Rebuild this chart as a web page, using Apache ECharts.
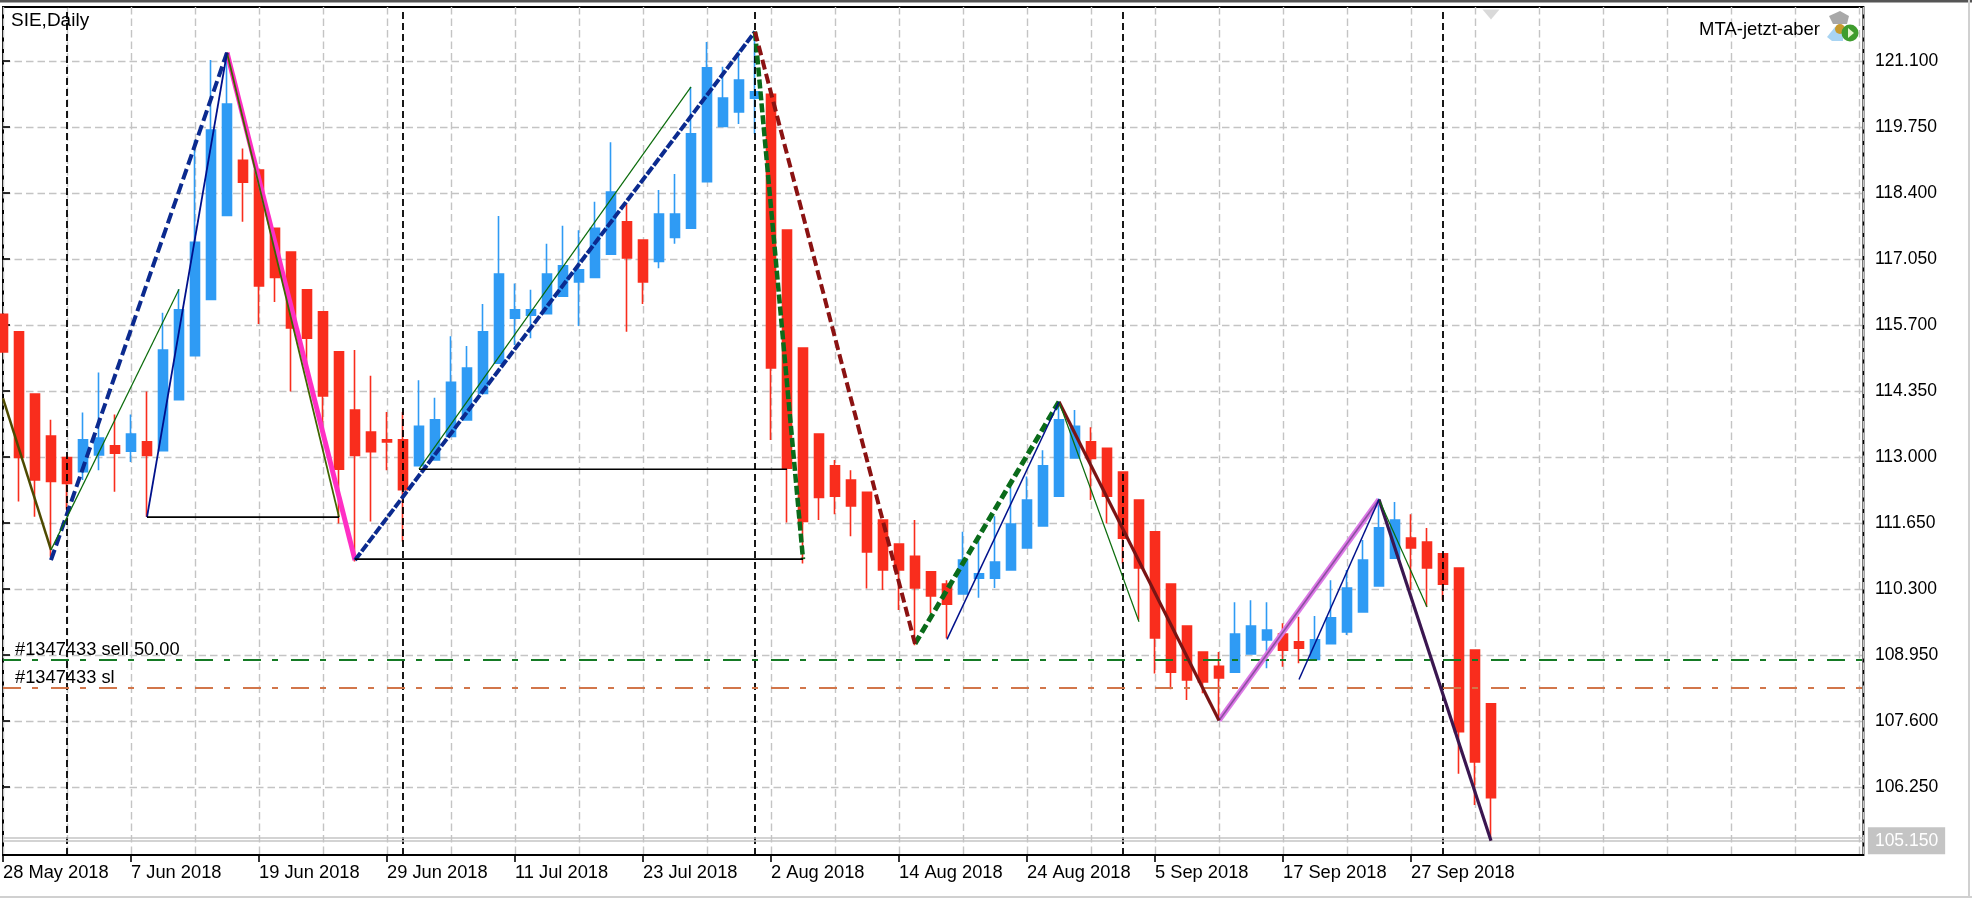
<!DOCTYPE html>
<html><head><meta charset="utf-8">
<style>html,body{margin:0;padding:0;background:#fff}#c{width:1972px;height:900px}</style>
<script src="https://cdn.jsdelivr.net/npm/echarts@6/dist/echarts.min.js"></script>
</head><body><div id="c"></div>
<script>
const opens=[115.92,115.56,114.29,113.43,112.99,112.70,113.04,113.23,113.12,113.31,113.13,114.17,115.07,116.22,117.94,119.07,118.87,117.68,117.19,116.42,115.97,115.15,113.96,113.51,113.35,113.35,112.82,112.94,113.42,113.76,114.30,114.92,115.84,115.90,115.93,116.29,116.58,116.67,117.15,117.81,117.44,117.00,117.49,117.68,118.63,119.76,120.06,120.34,120.42,117.64,115.23,113.47,112.82,112.53,112.28,111.71,111.22,110.97,110.65,110.40,110.20,110.52,110.52,110.69,111.14,111.59,112.20,112.98,113.31,113.18,112.69,112.12,111.47,110.40,109.54,109.01,108.72,108.60,108.97,109.26,109.38,109.22,108.86,109.18,109.42,109.83,110.36,110.93,111.34,111.26,111.02,110.73,109.05,107.95];
const closes=[115.15,112.99,112.53,112.50,112.46,113.35,113.39,113.08,113.47,113.03,115.19,116.01,117.39,119.69,120.22,118.62,116.50,116.67,115.64,115.43,114.25,112.75,113.03,113.11,113.31,112.33,113.63,113.76,114.53,114.82,115.56,116.74,116.01,116.01,116.74,116.91,116.83,117.68,118.42,117.07,116.58,117.97,117.97,119.61,120.96,120.34,120.71,120.47,114.82,112.77,111.68,112.17,112.20,112.00,111.06,110.69,110.69,110.32,110.16,109.99,110.89,110.61,110.85,111.63,112.12,112.82,113.76,113.63,112.97,112.20,111.34,110.73,109.30,108.60,108.44,108.40,108.48,109.38,109.54,109.46,109.05,109.09,109.26,109.71,110.32,110.89,111.55,111.71,111.14,110.73,110.40,107.38,106.76,106.03];
const lows=[115.15,112.09,111.78,110.96,111.92,112.53,112.73,112.29,112.90,111.78,113.13,114.17,115.07,116.22,117.94,117.81,115.72,116.17,114.34,114.85,113.48,111.64,110.86,111.68,112.73,111.27,112.82,112.94,113.42,113.76,114.30,114.92,115.29,115.43,115.93,116.29,115.68,116.67,117.15,115.56,116.13,116.86,117.36,117.68,118.63,119.76,119.81,119.61,113.35,111.66,110.82,111.71,111.83,111.38,110.31,110.28,109.87,109.15,109.80,109.29,110.20,110.12,110.32,110.69,111.14,111.59,112.20,112.98,112.12,111.64,110.82,109.67,108.57,108.25,108.03,108.17,107.62,108.60,108.97,108.68,108.71,108.78,108.86,109.18,109.36,109.83,110.36,110.93,110.28,109.94,110.07,106.52,105.88,105.15];
const highs=[115.92,115.56,114.29,113.76,112.99,113.91,114.73,113.87,113.87,114.34,115.95,116.43,119.48,121.12,121.26,119.31,118.87,117.68,117.19,116.42,115.97,115.15,115.19,114.66,113.92,113.92,114.57,114.21,115.47,115.27,116.13,117.93,116.55,116.42,117.36,117.73,117.64,118.22,119.44,118.19,117.44,118.46,118.79,120.57,121.49,120.98,121.32,121.70,120.51,117.64,115.23,113.47,112.94,112.73,112.28,111.71,111.22,111.71,110.65,110.48,111.47,111.34,111.79,112.39,112.60,113.14,114.06,113.96,113.61,113.18,112.69,112.12,111.47,110.40,109.54,109.01,109.01,110.03,110.07,110.03,109.60,109.73,109.75,110.48,110.69,111.30,112.15,112.08,111.83,111.55,111.02,110.73,109.05,107.95];
const dateTickIndex=[0,8,16,24,32,40,48,56,64,72,80,88];
const dateTickLabels=["28 May 2018","7 Jun 2018","19 Jun 2018","29 Jun 2018","11 Jul 2018","23 Jul 2018","2 Aug 2018","14 Aug 2018","24 Aug 2018","5 Sep 2018","17 Sep 2018","27 Sep 2018"];
const priceTicks=[106.25,107.6,108.95,110.3,111.65,113,114.35,115.7,117.05,118.4,119.75,121.1];
const separators=[4,25,47,70,90];
const sellPrice=108.85, stopPrice=108.28, bidPrice=105.15, askPrice=105.22;
const olive=[[0,114.20],[3,111.10]];
const navyDashA=[[3,110.89],[14,121.27]];
const pinkDown=[[14,121.27],[22,110.89]];
const thinGreenA=[[3,111.10],[11,116.43]];
const thinNavyA=[[9,111.77],[14,121.27]];
const thinGreenB=[[14,121.27],[21,111.77]];
const blackA=[[9,111.77],[21,111.77]];
const navyDashB=[[22,110.89],[47,121.70]];
const blackB=[[22,110.91],[50,110.91]];
const thinGreenC=[[26,112.75],[43,120.57]];
const blackC=[[26,112.75],[49,112.75]];
const greenDashA=[[47,121.70],[50,110.91]];
const redDash=[[47,121.70],[57,109.18]];
const greenDashB=[[57,109.18],[66,114.13]];
const thinNavyB=[[59,109.27],[66,114.13]];
const redSolid=[[66,114.13],[76,107.61]];
const thinGreenD=[[66,114.13],[71,109.63]];
const purpleUp=[[76,107.61],[86,112.13]];
const thinNavyC=[[81,108.45],[86,112.13]];
const thinGreenE=[[86,112.13],[89,109.93]];
const darkPurple=[[86,112.13],[93,105.15]];
const shiftMark=[[93,122.05]];

const FONT='"Liberation Sans"';
const candles=opens.map((o,i)=>[i,o,closes[i],lows[i],highs[i]]);
function ln(data,color,width,dash){
  return {type:'line',data,symbol:'none',silent:true,animation:false,z:5,
    lineStyle:{color,width,type:dash?dash:'solid',cap:'butt'}};
}
const hLabel=(text)=>({show:true,position:'insideStartTop',formatter:text,color:'#000',
  fontFamily:FONT,fontSize:18.3,distance:1,padding:[0,0,0,11]});
const gridDash={color:'#c4c4c4',width:1.4,type:[7.5,4]};
const chart=echarts.init(document.getElementById('c'),null,{renderer:'canvas'});
chart.setOption({
  animation:false,backgroundColor:'#fff',
  title:{text:'SIE,Daily',left:11,top:11,padding:0,textStyle:{fontFamily:FONT,fontSize:19,fontWeight:'normal',color:'#000'}},
  grid:{left:3,top:7,width:1860.4,height:848,show:true,borderColor:'#000',borderWidth:2,backgroundColor:'#fff'},
  xAxis:[
    {type:'value',min:0,max:116.275,position:'bottom',
     axisLine:{show:false},splitLine:{show:false},
     axisTick:{show:true,length:7,customValues:dateTickIndex,lineStyle:{color:'#000',width:1.6}},
     axisLabel:{show:true,customValues:dateTickIndex,align:'left',margin:9,fontFamily:FONT,fontSize:18.3,color:'#000',
       formatter:v=>dateTickLabels[dateTickIndex.indexOf(v)]||''}},
    {type:'value',min:0,max:116.275,interval:4,position:'bottom',
     axisLine:{show:false},axisTick:{show:false},axisLabel:{show:false},
     splitLine:{show:true,lineStyle:gridDash}}
  ],
  yAxis:{type:'value',position:'right',min:104.859,max:122.2045,
    axisLine:{show:false},
    axisTick:{show:true,length:7,customValues:priceTicks,lineStyle:{color:'#000',width:1.6}},
    axisLabel:{show:true,customValues:priceTicks,margin:11.5,fontFamily:FONT,fontSize:17.5,color:'#000',formatter:v=>v.toFixed(3)},
    splitLine:{show:true,lineStyle:gridDash}},
  series:[
    {type:'line',data:[],silent:true,z:1,animation:false,
     markLine:{silent:true,symbol:'none',animation:false,
       data:separators.map(x=>({xAxis:x})),label:{show:false},
       lineStyle:{color:'#000',width:1.8,type:[7,4]}}},
    {type:'line',data:[],silent:true,z:1,animation:false,
     markLine:{silent:true,symbol:'none',animation:false,data:[
       {yAxis:sellPrice,lineStyle:{color:'#157a25',width:2,type:[18,11,6,13]},label:hLabel('#1347433 sell 50.00')},
       {yAxis:stopPrice,lineStyle:{color:'#d2764a',width:2,type:[18,11,6,13]},label:hLabel('#1347433 sl')},
       {yAxis:askPrice,lineStyle:{color:'#c4c4c4',width:1.6,type:'solid'},label:{show:false}},
       {yAxis:bidPrice,lineStyle:{color:'#c4c4c4',width:1.6,type:'solid'},
        label:{show:true,position:'end',distance:4.5,formatter:'105.150',color:'#fff',backgroundColor:'#c4c4c4',
          fontFamily:FONT,fontSize:17.5,padding:[5,7,4,7]}}
     ]}},
    {type:'scatter',data:shiftMark,symbol:'triangle',symbolRotate:180,symbolSize:[17,10],itemStyle:{color:'#cfcfcf'},silent:true,z:2,animation:false},
    {type:'candlestick',data:candles,barWidth:8.6,silent:true,z:3,animation:false,
     encode:{x:0,y:[1,2,3,4]},
     itemStyle:{color:'#2f9bf4',color0:'#f92d1d',borderColor:'#2f9bf4',borderColor0:'#f92d1d',borderWidth:1.6}},
    ln(olive,'#4d4a00',2.5),
    ln(pinkDown,'#ff2fc4',5),
    ln(purpleUp,'#dc78e6',5.5),
    ln(purpleUp,'#8c4fa0',1.6),
    ln(navyDashA,'#0b2a8f',4,[11,4.5]),
    ln(navyDashB,'#0b2a8f',4,[9,2]),
    ln(greenDashA,'#0a6b1a',4.5,[9,3]),
    ln(greenDashB,'#0a6b1a',5,[9,4]),
    ln(redDash,'#8b1212',4,[10,4.5]),
    ln(redSolid,'#7a1414',3.2),
    ln(darkPurple,'#3a1650',3.2),
    ln(thinGreenA,'#0a6b0a',1.2),
    ln(thinGreenB,'#3f6500',1.8),
    ln(thinGreenC,'#0a6b0a',1.2),
    ln(thinGreenD,'#0a6b0a',1.2),
    ln(thinGreenE,'#0a6b0a',1.2),
    ln(thinNavyA,'#00108b',1.8),
    ln(thinNavyB,'#00108b',1.5),
    ln(thinNavyC,'#00108b',1.5),
    ln(blackA,'#000',1.6),
    ln(blackB,'#000',1.6),
    ln(blackC,'#000',1.6)
  ],
  graphic:[
    {type:'rect',silent:true,z:50,shape:{x:0,y:0,width:1972,height:2.5},style:{fill:'#555'}},
    {type:'rect',silent:true,z:50,shape:{x:0,y:896,width:1972,height:2},style:{fill:'#d0d0d0'}},
    {type:'rect',silent:true,z:50,shape:{x:1968,y:0,width:2,height:898},style:{fill:'#d0d0d0'}},
    {type:'text',silent:true,z:50,style:{x:1820,y:30,text:'MTA-jetzt-aber',align:'right',verticalAlign:'middle',font:'18.5px "Liberation Sans"',fill:'#000'}},
    {type:'polygon',silent:true,z:50,shape:{points:[[1829,16],[1840,11],[1849,16],[1847,24],[1833,24]]},style:{fill:'#a8a8a8'}},
    {type:'polygon',silent:true,z:50,shape:{points:[[1835,27],[1843,29],[1843,41],[1832,41],[1827,37]]},style:{fill:'#a9d4f2'}},
    {type:'circle',silent:true,z:50,shape:{cx:1840,cy:29,r:5},style:{fill:'#c79a2e'}},
    {type:'circle',silent:true,z:50,shape:{cx:1850,cy:33,r:8.5},style:{fill:'#3f9c2e'}},
    {type:'polygon',silent:true,z:51,shape:{points:[[1848,28],[1854,33],[1848,38]]},style:{fill:'#e4f5cf'}}
  ]
});
</script></body></html>
